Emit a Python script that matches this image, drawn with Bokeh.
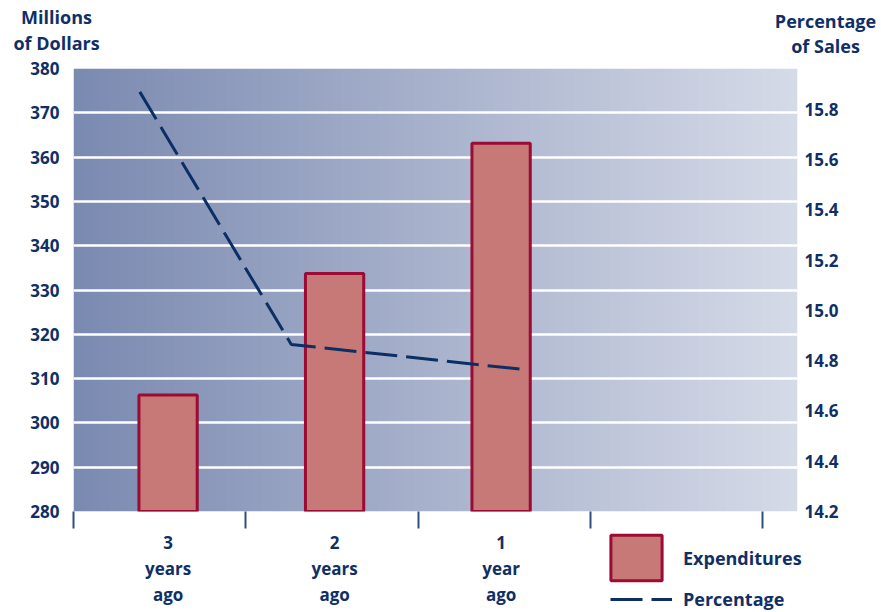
import numpy as np
from bokeh.plotting import figure
from bokeh.layouts import column
from bokeh.models import (Range1d, LinearAxis, FixedTicker, Legend, LegendItem,
                          Label, ColumnDataSource, NumeralTickFormatter)
from bokeh.core.properties import value
from bokeh.embed import file_html
from bokeh.resources import INLINE

# ---- data ----
categories = ["3\nyears\nago", "2\nyears\nago", "1\nyear\nago"]
expenditures = [306.3, 333.7, 363.1]          # millions of dollars
percentage = [15.87, 14.865, 14.765]           # percentage of sales
pct_offsets = [-0.17, -0.26, 0.135]            # where the line points sit relative to each category
left_ticks = [280, 290, 300, 310, 320, 330, 340, 350, 360, 370, 380]
right_ticks = [14.2, 14.4, 14.6, 14.8, 15.0, 15.2, 15.4, 15.6, 15.8]
left_title = ["Millions", "of Dollars"]
right_title = ["Percentage", "of Sales"]

TEXT = "#0f2f66"
FONT = "Open Sans"
BAR_FILL = "#c67977"
BAR_LINE = "#9b0b33"
LINE_COL = "#0b2f64"

W = 881
L_B, R_B = 73, 84              # side borders of the plotting frame
TOP_H, MAIN_H = 58, 472
BOT_H = 612 - TOP_H - MAIN_H

cat_pos = [1, 2, 3]
x0, x1 = 0.432, 4.78
ppu = (W - L_B - R_B) / (x1 - x0)

# ---------------- top strip: axis titles ----------------
top = figure(width=W, height=TOP_H, output_backend="svg", toolbar_location=None,
             x_range=Range1d(0, W), y_range=Range1d(0, TOP_H), min_border=0,
             frame_align=False)
top.axis.visible = False
top.grid.visible = False
top.outline_line_color = None
for (txt, y) in zip(left_title, [42, 16]):
    top.add_layout(Label(x=56, y=y, text=txt, text_align="center",
                         text_baseline="alphabetic", text_font=FONT,
                         text_font_style="bold", text_font_size="18px", text_color=TEXT))
for (txt, y) in zip(right_title, [38, 13]):
    top.add_layout(Label(x=825, y=y, text=txt, text_align="center",
                         text_baseline="alphabetic", text_font=FONT,
                         text_font_style="bold", text_font_size="18px", text_color=TEXT))

# ---------------- main plot ----------------
p = figure(width=W, height=MAIN_H, output_backend="svg", toolbar_location=None,
           x_range=Range1d(x0, x1), y_range=Range1d(280, 380),
           min_border_left=L_B, min_border_right=R_B, min_border_top=10, min_border_bottom=19,
           frame_align=False)
p.outline_line_color = None
p.extra_y_ranges = {"pct": Range1d(14.2, 15.963)}

# gradient background
n = 400
c0 = np.array([123, 138, 177])
c1 = np.array([214, 219, 232])
t = np.linspace(0, 1, n)
img = np.zeros((2, n), dtype=np.uint32)
view = img.view(dtype=np.uint8).reshape((2, n, 4))
for k in range(3):
    view[:, :, k] = (c0[k] + (c1[k] - c0[k]) * t).astype(np.uint8)
view[:, :, 3] = 255
p.image_rgba(image=[img], x=x0, y=280, dw=x1 - x0, dh=100, level="image")

# grid
p.xgrid.visible = False
p.ygrid.grid_line_color = "white"
p.ygrid.grid_line_width = 2.5
p.ygrid.ticker = FixedTicker(ticks=left_ticks[1:-1])

# bars
src = ColumnDataSource(dict(x=cat_pos, top=expenditures))
p.vbar(x="x", top="top", bottom=280, width=0.35, source=src,
       fill_color=BAR_FILL, line_color=BAR_LINE, line_width=3)

# percentage line
lx = [c + o for c, o in zip(cat_pos, pct_offsets)]
p.line(lx, percentage, y_range_name="pct", line_color=LINE_COL,
       line_width=3, line_dash="32 9")

def style_labels(ax):
    ax.major_label_text_font = FONT
    ax.major_label_text_font_style = "bold"
    ax.major_label_text_font_size = "17px"
    ax.major_label_text_color = TEXT

# left axis
la = p.yaxis[0]
la.ticker = FixedTicker(ticks=left_ticks)
la.axis_line_color = None
la.major_tick_line_color = None
la.minor_tick_line_color = None
la.major_tick_out = 0
la.major_label_standoff = 14
style_labels(la)

# right axis
ra = LinearAxis(y_range_name="pct", ticker=FixedTicker(ticks=right_ticks),
                formatter=NumeralTickFormatter(format="0.0"))
ra.axis_line_color = None
ra.major_tick_line_color = None
ra.minor_tick_line_color = None
ra.major_tick_out = 0
ra.major_label_standoff = 7
style_labels(ra)
p.add_layout(ra, "right")

# bottom axis: only the tick marks at the category boundaries
step = 172.3 / ppu
bounds = [x0 + i * step for i in range(5)]
xa = p.xaxis[0]
xa.ticker = FixedTicker(ticks=bounds)
xa.major_label_overrides = {b: "" for b in bounds}
xa.major_label_text_font_size = "0px"
xa.major_label_standoff = 0
xa.axis_line_color = None
xa.major_tick_line_color = "#2e4f80"
xa.major_tick_line_width = 2
xa.major_tick_out = 17
xa.major_tick_in = 0
xa.minor_tick_line_color = None

# ---------------- bottom strip: category labels + legend ----------------
bx0 = x0 - L_B / ppu
bx1 = x1 + R_B / ppu
bot = figure(width=W, height=BOT_H, output_backend="svg", toolbar_location=None,
             x_range=Range1d(bx0, bx1), y_range=Range1d(BOT_H, 0), min_border=0,
             frame_align=False)
bot.axis.visible = False
bot.grid.visible = False
bot.outline_line_color = None
bot.text(x=cat_pos, y=[0] * 3, text=categories, text_align="center", text_baseline="top",
         text_font=value(FONT), text_font_style="bold", text_font_size="17px",
         text_color=TEXT, text_line_height=1.14)

# legends (two stacked legends so each row can have its own swatch height)
L1_X, L1_Y, L1_GW, L1_GH = 604, 26, 64, 57
L2_X, L2_Y, L2_GW, L2_GH = 610, 1, 62, 20

# legend proxies: a degenerate bar hidden beneath the legend's own swatch,
# and a one-point line (which draws nothing)
px_x = bx0 + (L1_X + L1_GW / 2) / ppu
px_y = BOT_H - (L1_Y + L1_GH / 2)
leg_bar = bot.vbar(x=[px_x], top=[px_y], bottom=px_y, width=0,
                   fill_color=BAR_FILL, line_color=BAR_LINE, line_width=3)
leg_line = bot.line(x=[px_x], y=[px_y], line_color=LINE_COL, line_width=3,
                    line_dash="32 9")

common = dict(orientation="vertical", padding=0, margin=0, spacing=0,
              border_line_color=None, background_fill_alpha=0,
              label_text_font=FONT, label_text_font_style="bold",
              label_text_font_size="18px", label_text_color=TEXT)
legend1 = Legend(items=[LegendItem(label="Expenditures", renderers=[leg_bar])],
                 location=(L1_X, L1_Y), glyph_width=L1_GW, glyph_height=L1_GH,
                 label_standoff=15, **common)
legend2 = Legend(items=[LegendItem(label="Percentage", renderers=[leg_line])],
                 location=(L2_X, L2_Y), glyph_width=L2_GW, glyph_height=L2_GH,
                 label_standoff=11, **common)
bot.add_layout(legend1, "center")
bot.add_layout(legend2, "center")

layout = column(top, p, bot, spacing=0)
open("out.html", "w").write(file_html(layout, INLINE))
